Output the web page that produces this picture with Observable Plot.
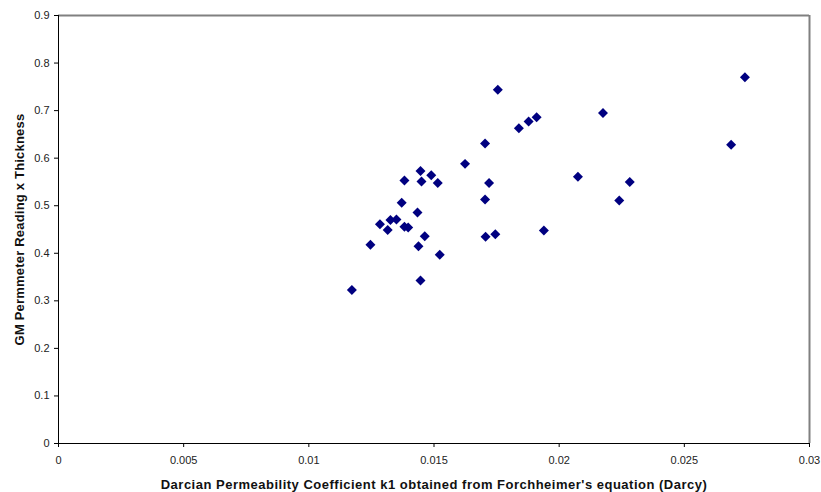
<!DOCTYPE html>
<html>
<head>
<meta charset="utf-8">
<script src="https://cdn.jsdelivr.net/npm/d3@7"></script>
<script src="https://cdn.jsdelivr.net/npm/@observablehq/plot@0.6"></script>
<style>
  html, body { margin: 0; padding: 0; background: #fff; }
  #chart { width: 821px; height: 492px; }
</style>
</head>
<body>
<div id="chart"></div>
<script>
const k1 = [0.01172, 0.01246, 0.01284, 0.01326, 0.01350, 0.01315, 0.01382, 0.01397, 0.01371, 0.01382,
            0.01446, 0.01450, 0.01489, 0.01515, 0.01434, 0.01463, 0.01438, 0.01523, 0.01446, 0.01624,
            0.01704, 0.01755, 0.01720, 0.01704, 0.01706, 0.01745, 0.01839, 0.01878, 0.01910, 0.01939,
            0.02075, 0.02175, 0.02240, 0.02282, 0.02687, 0.02742];
const gm = [0.323, 0.418, 0.461, 0.470, 0.471, 0.449, 0.456, 0.454, 0.506, 0.553,
            0.573, 0.551, 0.564, 0.548, 0.486, 0.436, 0.415, 0.397, 0.343, 0.588,
            0.631, 0.744, 0.548, 0.513, 0.435, 0.440, 0.663, 0.677, 0.686, 0.448,
            0.561, 0.695, 0.511, 0.550, 0.628, 0.770];
const xTicks = [0, 0.005, 0.01, 0.015, 0.02, 0.025, 0.03];
const yTicks = [0, 0.1, 0.2, 0.3, 0.4, 0.5, 0.6, 0.7, 0.8, 0.9];
const xTitle = "Darcian Permeability Coefficient k1 obtained from Forchheimer's equation (Darcy)";
const yTitle = "GM Permmeter Reading x Thickness";

const data = k1.map((x, i) => ({x, y: gm[i]}));

const chart = Plot.plot({
  width: 821,
  height: 492,
  marginLeft: 58,
  marginTop: 15,
  marginRight: 12,
  marginBottom: 49,
  style: {fontFamily: "'Liberation Sans', Arial, sans-serif", fontSize: "11px", color: "#222", background: "#fff"},
  x: {domain: [0, 0.03], ticks: xTicks, tickFormat: d => String(d)},
  y: {domain: [0, 0.9], ticks: yTicks, tickFormat: d => String(d)},
  marks: [
    Plot.ruleY([0.9], {stroke: "#808080", strokeWidth: 2}),
    Plot.ruleX([0.03], {stroke: "#808080", strokeWidth: 2}),
    Plot.ruleY([0], {stroke: "#000", strokeWidth: 1}),
    Plot.ruleX([0], {stroke: "#000", strokeWidth: 1}),
    Plot.axisX({ticks: xTicks, tickFormat: d => String(d), tickSize: 4, tickPadding: 9, stroke: "#000",
      label: xTitle, labelAnchor: "center", labelOffset: 45, labelArrow: "none",
      fontSize: 11}),
    Plot.axisY({ticks: yTicks, tickFormat: d => String(d), tickSize: 4, tickPadding: 5, stroke: "#000",
      label: yTitle, labelAnchor: "center", labelOffset: 44, labelArrow: "none",
      fontSize: 11}),
    Plot.dot(data, {x: "x", y: "y", symbol: "diamond2", r: 4.5, fill: "#000080", stroke: "none"})
  ]
});
document.getElementById("chart").appendChild(chart);
d3.select(chart).selectAll("[aria-label='x-axis label'] text")
  .style("font-weight", "bold").style("font-size", "13px").style("letter-spacing", "0.5px").style("fill", "#111");
d3.select(chart).selectAll("[aria-label='y-axis label'] text")
  .style("font-weight", "bold").style("font-size", "13px").style("letter-spacing", "0.2px").style("fill", "#111");
</script>
</body>
</html>
